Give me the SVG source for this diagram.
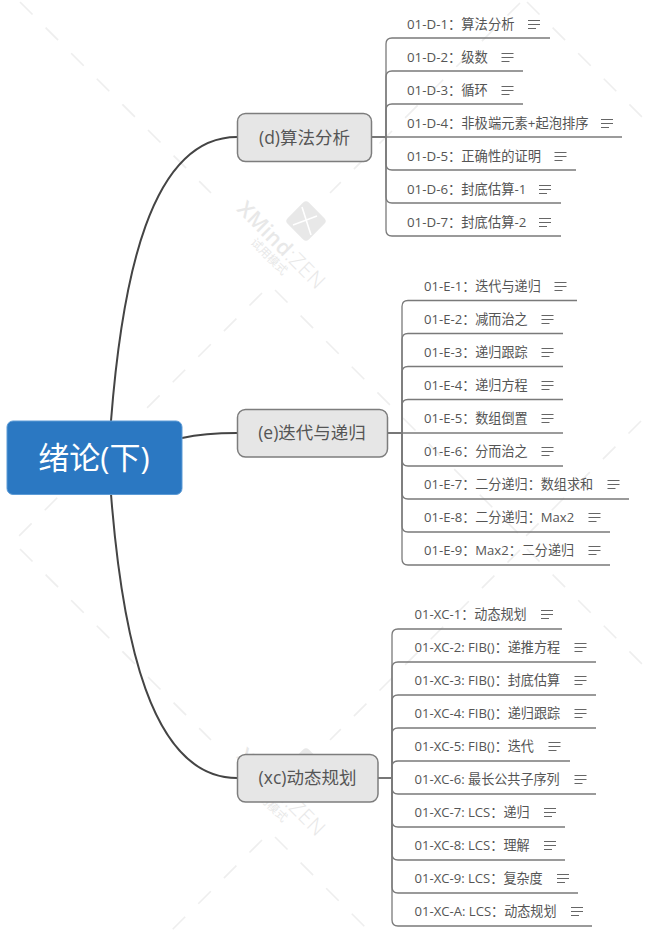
<svg xmlns="http://www.w3.org/2000/svg" xmlns:xlink="http://www.w3.org/1999/xlink" width="645" height="939" viewBox="0 0 645 939">
<style>
.t{font-family:"Open Sans","Noto Sans CJK SC",sans-serif}
.leaf{font-size:13.3px;fill:#555}
.leaf2{font-size:13.1px;fill:#555}
.branch{font-size:17.5px;fill:#555;text-anchor:middle}
.box{fill:#e6e6e6;stroke:#7d7d7d;stroke-width:1.5}
.main{fill:none;stroke:#444;stroke-width:2}
.stem{fill:none;stroke:#555;stroke-width:1.6}
.sub{fill:none;stroke:#7a7a7a;stroke-width:1.3}
.dash{fill:none;stroke:#eeeeee;stroke-width:1.6;stroke-dasharray:17.7 18.5}
.wm{fill:#e8e8e8}
</style>
<defs>
<g id="ic" fill="none" stroke="#666" stroke-width="1.1"><path d="M0 20.5H12M0 24.5H12M0 28.5H8"/></g>
<g id="tile">
<path class="dash" d="M20 2L211 193"/>
<path class="dash" d="M275 290L518 533"/>
<path class="dash" d="M520 3L330 193"/>
<path class="dash" d="M262 293L18 537"/>
<rect x="291" y="206" width="30" height="30" rx="4" class="wm" transform="rotate(45 306 221)"/>
<path d="M302 207L311 235M293 225L317 216" fill="none" stroke="#fff" stroke-width="1.6"/>
<text class="t wm" x="236" y="210" font-size="21.200" transform="rotate(45 236 210)" letter-spacing="0.5"><tspan font-weight="600">XMind</tspan><tspan font-weight="300">:ZEN</tspan></text>
<text class="t wm" x="250" y="243" font-size="11.500" transform="rotate(45 250 243)">试用模式</text>
</g>
</defs>
<rect width="645" height="939" fill="#fff"/>
<g id="watermark">
<use href="#tile"/>
<use href="#tile" x="507"/>
<use href="#tile" y="547"/>
<use href="#tile" x="507" y="547"/>
</g>
<g id="connectors">
<path class="main" d="M111 421C122 280 150 137 237 137"/>
<path class="main" d="M182 438C200 434 215 433 237 433"/>
<path class="main" d="M111 494C122 635 150 778 237 778"/>
<path class="stem" d="M372 137H386"/>
<path class="stem" d="M388 433H402"/>
<path class="stem" d="M378 778H392"/>
<g class="sub">
<path d="M386 137V44Q386 38 392 38H550"/>
<path d="M386 137V77Q386 71 392 71H523"/>
<path d="M386 137V110Q386 104 392 104H523"/>
<path d="M386 137H622"/>
<path d="M386 137V164Q386 170 392 170H576"/>
<path d="M386 137V197Q386 203 392 203H561"/>
<path d="M386 137V230Q386 236 392 236H561"/>
<path d="M402 433V306.500Q402 300.500 408 300.500H577"/>
<path d="M402 433V339.500Q402 333.500 408 333.500H563"/>
<path d="M402 433V372.500Q402 366.500 408 366.500H563"/>
<path d="M402 433V405.500Q402 399.500 408 399.500H563"/>
<path d="M402 433H563"/>
<path d="M402 433V460Q402 466 408 466H563"/>
<path d="M402 433V493Q402 499 408 499H629"/>
<path d="M402 433V526Q402 532 408 532H610"/>
<path d="M402 433V559Q402 565 408 565H610"/>
<path d="M392 778V635Q392 629 398 629H562"/>
<path d="M392 778V668Q392 662 398 662H596"/>
<path d="M392 778V701Q392 695 398 695H596"/>
<path d="M392 778V734Q392 728 398 728H596"/>
<path d="M392 778V767Q392 761 398 761H570"/>
<path d="M392 778V788Q392 794 398 794H596"/>
<path d="M392 778V821Q392 827 398 827H565"/>
<path d="M392 778V854Q392 860 398 860H565"/>
<path d="M392 778V887Q392 893 398 893H578"/>
<path d="M392 778V920Q392 926 398 926H592"/>
</g>
</g>
<g id="root">
<rect x="7" y="421" width="175" height="73.500" rx="6" fill="#2b78c2" stroke="#5c9bd6" stroke-width="1"/>
<text class="t" x="94" y="469" font-size="31" fill="#fff" text-anchor="middle">绪论(下)</text>
</g>
<g id="branch-d"><rect class="box" x="237.500" y="113.500" width="134" height="48" rx="8"/><text class="t branch" x="304.500" y="143.500">(d)算法分析</text></g>
<g id="branch-e"><rect class="box" x="237.500" y="409.500" width="150" height="47.500" rx="8"/><text class="t branch" x="312" y="439">(e)迭代与递归</text></g>
<g id="branch-xc"><rect class="box" x="237.500" y="754.500" width="140.500" height="47.500" rx="8"/><text class="t branch" x="307.500" y="784">(xc)动态规划</text></g>
<g id="d1"><text class="t leaf" x="407" y="29">01-D-1：算法分析</text><use href="#ic" x="528" y="0"/></g>
<g id="d2"><text class="t leaf" x="407" y="62">01-D-2：级数</text><use href="#ic" x="501.500" y="33"/></g>
<g id="d3"><text class="t leaf" x="407" y="95">01-D-3：循环</text><use href="#ic" x="501.500" y="66"/></g>
<g id="d4"><text class="t leaf" x="407" y="128">01-D-4：非极端元素+起泡排序</text><use href="#ic" x="601" y="99"/></g>
<g id="d5"><text class="t leaf" x="407" y="161">01-D-5：正确性的证明</text><use href="#ic" x="554.500" y="132"/></g>
<g id="d6"><text class="t leaf" x="407" y="194">01-D-6：封底估算-1</text><use href="#ic" x="539" y="165"/></g>
<g id="d7"><text class="t leaf" x="407" y="227">01-D-7：封底估算-2</text><use href="#ic" x="539" y="198"/></g>
<g id="e1"><text class="t leaf2" x="424" y="291">01-E-1：迭代与递归</text><use href="#ic" x="554.500" y="262"/></g>
<g id="e2"><text class="t leaf2" x="424" y="324">01-E-2：减而治之</text><use href="#ic" x="541.500" y="295"/></g>
<g id="e3"><text class="t leaf2" x="424" y="357">01-E-3：递归跟踪</text><use href="#ic" x="541.500" y="328"/></g>
<g id="e4"><text class="t leaf2" x="424" y="390">01-E-4：递归方程</text><use href="#ic" x="541.500" y="361"/></g>
<g id="e5"><text class="t leaf2" x="424" y="423">01-E-5：数组倒置</text><use href="#ic" x="541.500" y="394"/></g>
<g id="e6"><text class="t leaf2" x="424" y="456">01-E-6：分而治之</text><use href="#ic" x="541.500" y="427"/></g>
<g id="e7"><text class="t leaf2" x="424" y="489">01-E-7：二分递归：数组求和</text><use href="#ic" x="607.500" y="460"/></g>
<g id="e8"><text class="t leaf2" x="424" y="522">01-E-8：二分递归：Max2</text><use href="#ic" x="588.500" y="493"/></g>
<g id="e9"><text class="t leaf2" x="424" y="555">01-E-9：Max2：二分递归</text><use href="#ic" x="588.500" y="526"/></g>
<g id="xc1"><text class="t leaf2" x="414.500" y="619">01-XC-1：动态规划</text><use href="#ic" x="541" y="590"/></g>
<g id="xc2"><text class="t leaf2" x="414.500" y="652">01-XC-2: FIB()：递推方程</text><use href="#ic" x="574.500" y="623"/></g>
<g id="xc3"><text class="t leaf2" x="414.500" y="685">01-XC-3: FIB()：封底估算</text><use href="#ic" x="574.500" y="656"/></g>
<g id="xc4"><text class="t leaf2" x="414.500" y="718">01-XC-4: FIB()：递归跟踪</text><use href="#ic" x="574.500" y="689"/></g>
<g id="xc5"><text class="t leaf2" x="414.500" y="751">01-XC-5: FIB()：迭代</text><use href="#ic" x="548.500" y="722"/></g>
<g id="xc6"><text class="t leaf2" x="414.500" y="784">01-XC-6: 最长公共子序列</text><use href="#ic" x="574.500" y="755"/></g>
<g id="xc7"><text class="t leaf2" x="414.500" y="817">01-XC-7: LCS：递归</text><use href="#ic" x="544" y="788"/></g>
<g id="xc8"><text class="t leaf2" x="414.500" y="850">01-XC-8: LCS：理解</text><use href="#ic" x="544" y="821"/></g>
<g id="xc9"><text class="t leaf2" x="414.500" y="883">01-XC-9: LCS：复杂度</text><use href="#ic" x="557" y="854"/></g>
<g id="xca"><text class="t leaf2" x="414.500" y="916">01-XC-A: LCS：动态规划</text><use href="#ic" x="571" y="887"/></g>
</svg>
